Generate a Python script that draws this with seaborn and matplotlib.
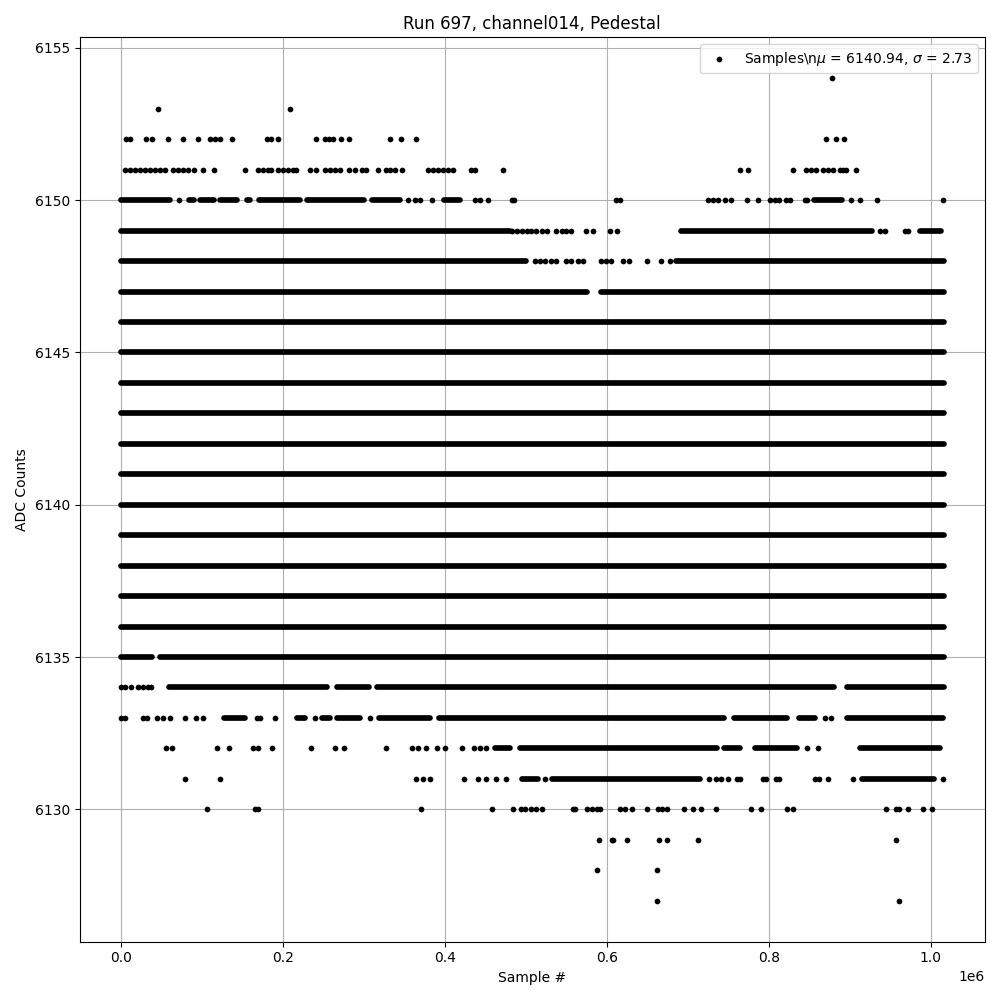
import numpy as np
import pandas as pd
import seaborn as sns
import matplotlib.pyplot as plt

# sample positions are in thousands of samples
SCALE = 1000
LAST = 1016

TITLE = "Run 697, channel014, Pedestal"
LABEL = r"Samples\n$\mu$ = 6140.94, $\sigma$ = 2.73"

# levels where samples cover the whole run
full_levels = [6136, 6137, 6138, 6139, 6140, 6141, 6142, 6143, 6144, 6145, 6146]

# dense stretches (start, end) and isolated samples per ADC level
seg_6150 = [(0, 61), (84.6, 90.7), (98.1, 115.4), (122.8, 143.8), (155.6, 159.3),
            (171.0, 221.6), (230.2, 300.6), (310.5, 345.1), (399.4, 419.1), (855.6, 890.7)]
pts_6150 = [71.6, 354.3, 363.0, 369.1, 384.0, 437.0, 443.2, 453.1, 483.3, 485.8, 611.1, 616.9,
            724.3, 730.5, 736.7, 745.7, 753.9, 773.2, 786.8, 801.2, 807.4, 812.7, 821.0, 825.9,
            844.4, 846.5, 901.2, 912.3, 933.0, 1015.2]
seg_6149 = [(0, 480), (691, 927), (986, 1012)]
pts_6149 = [482.7, 488.9, 495.1, 501.2, 507.0, 513.2, 519.4, 525.6, 537.9, 544.1, 550.2, 556.4,
            574.9, 583.1, 603.7, 612.0, 937.0, 943.2, 967.9, 971.6]
seg_6148 = [(0, 500), (685, 1016)]
pts_6148 = [511.1, 517.3, 523.5, 531.7, 537.9, 550.2, 556.4, 564.6, 570.8, 593.4, 599.6, 604.6,
            620.1, 627.5, 649.0, 667.5, 677.8]
seg_6147 = [(0, 576), (593, 1016)]

pts_6154 = [877.8]
pts_6153 = [45.7, 208.6]
pts_6152 = [7.0, 12.0, 31.7, 39.1, 58.4, 76.9, 95.4, 110.7, 116.0, 123.1, 137.4, 181.1, 186.0,
            194.2, 241.1, 251.9, 257.2, 262.1, 272.0, 281.9, 332.5, 346.0, 364.6, 870.7, 883.1, 893.0]
pts_6151 = [4.9, 11.1, 17.3, 23.5, 29.6, 35.8, 42.0, 48.1, 55.2, 64.6, 70.7, 76.9, 83.1, 90.1,
            101.6, 114.8, 153.5, 169.5, 175.7, 181.9, 186.0, 194.2, 200.4, 206.5, 212.7, 216.9,
            233.3, 241.6, 251.9, 258.0, 264.2, 270.4, 281.9, 288.9, 298.4, 303.3, 317.7, 327.2,
            332.1, 338.3, 347.3, 379.4, 385.6, 391.7, 397.9, 404.1, 410.2, 433.0, 437.0, 472.0,
            764.2, 774.4, 830.0, 845.7, 851.9, 858.0, 867.0, 873.2, 879.4, 887.7, 891.7, 895.1, 907.0]

seg_6135 = [(0, 38.9), (48.8, 1016)]
seg_6134 = [(59.3, 254.9), (267.3, 306.2), (316.7, 880.9), (896.9, 1016)]
pts_6134 = [0, 4.9, 13.2, 21.4, 27.5, 33.7, 37.9]
seg_6133 = [(127.8, 153.7), (217.9, 227.8), (248.8, 258.6), (267.3, 295.7), (319.1, 382.1),
            (393.2, 744.4), (757.4, 822.8), (837.7, 857.4), (896.9, 1014.8)]
pts_6133 = [0, 4.9, 27.5, 32.1, 44.4, 51.9, 60.5, 79.0, 92.6, 101.2, 167.9, 171.6, 190.1,
            239.5, 307.4, 868.8, 876.5]
seg_6132 = [(462.3, 480.9), (493.2, 736.4), (745.1, 764.8), (783.3, 835.2), (913.0, 1011.7)]
pts_6132 = [56.4, 63.8, 118.5, 133.3, 163.0, 169.8, 186.4, 234.6, 264.2, 275.3, 327.2, 359.3,
            366.7, 376.5, 390.1, 400.0, 421.0, 435.8, 443.2, 450.6, 846.9, 860.5]
seg_6131 = [(495, 515), (532.7, 715.4), (915.4, 1004.3)]
pts_6131 = [79.9, 123.1, 365.1, 373.2, 381.5, 423.8, 441.1, 450.6, 463.6, 475.0, 523.5, 725.9,
            734.6, 740.7, 749.4, 760.5, 764.2, 792.6, 796.3, 808.6, 812.3, 856.8, 861.7, 872.8,
            903.7, 1014.4]
pts_6130 = [106.5, 165.4, 169.1, 370.4, 458.4, 484.3, 494.7, 498.8, 507.0, 513.2, 519.4, 558.0,
            560.5, 575.3, 581.5, 587.7, 591.4, 616.0, 622.2, 630.5, 649.0, 663.0, 667.9, 674.1,
            695.1, 705.8, 715.7, 734.2, 778.1, 790.5, 821.9, 830.0, 944.4, 956.4, 960.9, 972.0,
            989.8, 1000.9]
pts_6129 = [590.5, 605.8, 607.8, 625.1, 664.6, 674.4, 712.7, 956.4]
pts_6128 = [587.3, 662.1]
pts_6127 = [662.1, 960.9]

segments = {6150: seg_6150, 6149: seg_6149, 6148: seg_6148, 6147: seg_6147,
            6135: seg_6135, 6134: seg_6134, 6133: seg_6133, 6132: seg_6132, 6131: seg_6131}
for lvl in full_levels:
    segments[lvl] = [(0, LAST)]
points = {6154: pts_6154, 6153: pts_6153, 6152: pts_6152, 6151: pts_6151, 6150: pts_6150,
          6149: pts_6149, 6148: pts_6148, 6134: pts_6134, 6133: pts_6133, 6132: pts_6132,
          6131: pts_6131, 6130: pts_6130, 6129: pts_6129, 6128: pts_6128, 6127: pts_6127}

seg_df = pd.DataFrame([(lvl, a * SCALE, b * SCALE) for lvl, s in segments.items() for a, b in s],
                      columns=["adc", "start", "end"])
pts_df = pd.DataFrame([(x * SCALE, lvl) for lvl, p in points.items() for x in p],
                      columns=["sample", "adc"])

fig, ax = plt.subplots(figsize=(10, 10), dpi=100)
ax.hlines(seg_df["adc"], seg_df["start"], seg_df["end"], color="k", linewidth=4.1,
          capstyle="round", zorder=2.5)
sns.scatterplot(data=pts_df, x="sample", y="adc", color="k", s=17, linewidth=0,
                marker="o", label=LABEL, zorder=2.5, ax=ax)
ax.set_title(TITLE)
ax.set_xlabel("Sample #")
ax.set_ylabel("ADC Counts")
ax.grid(True)
ax.legend(loc="upper right")
plt.tight_layout()
plt.savefig("out.png", dpi=100)
